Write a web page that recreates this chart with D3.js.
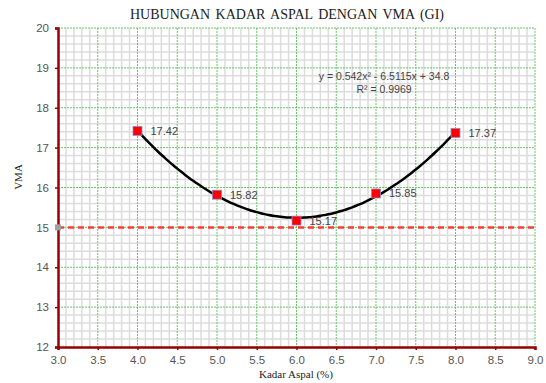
<!DOCTYPE html>
<html>
<head>
<meta charset="utf-8">
<script src="https://cdn.jsdelivr.net/npm/d3@7"></script>
<style>
  body { margin: 0; background: #fff; }
  svg { display: block; }
</style>
</head>
<body>
<div id="chart"></div>
<script>
// VMA vs kadar aspal, with 2nd order trendline
const kadarAspal = [4.0, 5.0, 6.0, 7.0, 8.0];
const vma = [17.42, 15.82, 15.17, 15.85, 17.37];
const pointLabels = ['17.42', '15.82', '15.17', '15.85', '17.37'];
const trendCoef = [0.542, -6.5115, 34.8]; // a, b, c
const batasX = [3.0, 9.0];
const batasY = [15, 15];
const xTicks = [3.0, 3.5, 4.0, 4.5, 5.0, 5.5, 6.0, 6.5, 7.0, 7.5, 8.0, 8.5, 9.0];
const yTicks = [12, 13, 14, 15, 16, 17, 18, 19, 20];

const W = 546, H = 383;
const margin = {top: 28, right: 11, bottom: 36, left: 58};
const width = W - margin.left - margin.right;
const height = H - margin.top - margin.bottom;

const root = d3.select('#chart').append('svg')
  .attr('width', W)
  .attr('height', H);

const svg = root.append('g')
  .attr('transform', `translate(${margin.left},${margin.top})`);

const x = d3.scaleLinear().domain([3, 9]).range([0, width]);
const y = d3.scaleLinear().domain([12, 20]).range([height, 0]);

// minor grid: every 0.1 in x, every 0.2 in y
const minorX = d3.range(1, 60).filter(i => i % 5 !== 0).map(i => 3 + i * 0.1);
const minorY = d3.range(1, 40).filter(i => i % 5 !== 0).map(i => 12 + i * 0.2);

svg.append('g')
  .selectAll('line')
  .data(minorX)
  .enter().append('line')
  .attr('x1', d => x(d)).attr('x2', d => x(d))
  .attr('y1', 0).attr('y2', height)
  .attr('stroke', '#dcdcdc').attr('stroke-width', 1.5);

svg.append('g')
  .selectAll('line')
  .data(minorY)
  .enter().append('line')
  .attr('x1', 0).attr('x2', width)
  .attr('y1', d => y(d)).attr('y2', d => y(d))
  .attr('stroke', '#dcdcdc').attr('stroke-width', 1.5);

// major grid (green dotted)
svg.append('g')
  .selectAll('line')
  .data(xTicks.slice(1))
  .enter().append('line')
  .attr('x1', d => x(d)).attr('x2', d => x(d))
  .attr('y1', 0).attr('y2', height)
  .attr('stroke', '#6cc46c').attr('stroke-width', 1)
  .attr('stroke-dasharray', '2,1');

svg.append('g')
  .selectAll('line')
  .data(yTicks.slice(1))
  .enter().append('line')
  .attr('x1', 0).attr('x2', width)
  .attr('y1', d => y(d)).attr('y2', d => y(d))
  .attr('stroke', '#6cc46c').attr('stroke-width', 1)
  .attr('stroke-dasharray', '2,1');

// axes
const xAxis = svg.append('g')
  .attr('transform', `translate(0,${height})`)
  .call(d3.axisBottom(x).tickValues(xTicks).tickFormat(d3.format('.1f')).tickSize(3).tickPadding(6));
const yAxis = svg.append('g')
  .call(d3.axisLeft(y).tickValues(yTicks).tickSize(3).tickPadding(6));

[xAxis, yAxis].forEach(ax => {
  ax.select('.domain').attr('stroke', '#990000').attr('stroke-width', 2.5);
  ax.selectAll('.tick line').attr('stroke', '#990000').attr('stroke-width', 1.5);
  ax.selectAll('text')
    .attr('fill', '#555')
    .style('font-family', 'Arial, "Liberation Sans", sans-serif')
    .style('font-size', '11.5px');
});

// batas 15 (red dashed)
const batas = batasX.map((d, i) => ({x: d, y: batasY[i]}));
svg.append('path')
  .datum(batas)
  .attr('fill', 'none')
  .attr('stroke', '#ff3b3b')
  .attr('stroke-width', 2.5)
  .attr('stroke-dasharray', '6,4')
  .attr('d', d3.line().x(d => x(d.x)).y(d => y(d.y)));

svg.append('rect')
  .attr('x', x(batasX[0]) - 3).attr('y', y(batasY[0]) - 3)
  .attr('width', 6).attr('height', 6)
  .attr('fill', '#a0a0a0');

// trendline
const poly = v => trendCoef[0] * v * v + trendCoef[1] * v + trendCoef[2];
const trendX = d3.range(0, 81).map(i => kadarAspal[0] + i * (kadarAspal[kadarAspal.length - 1] - kadarAspal[0]) / 80);
svg.append('path')
  .datum(trendX)
  .attr('fill', 'none')
  .attr('stroke', '#000')
  .attr('stroke-width', 2.5)
  .attr('d', d3.line().x(d => x(d)).y(d => y(poly(d))).curve(d3.curveMonotoneX));

// data points
const pts = kadarAspal.map((d, i) => ({x: d, y: vma[i], label: pointLabels[i]}));
svg.selectAll('.pt')
  .data(pts)
  .enter().append('rect')
  .attr('class', 'pt')
  .attr('x', d => x(d.x) - 4.5)
  .attr('y', d => y(d.y) - 4.5)
  .attr('width', 9).attr('height', 9)
  .attr('fill', '#ff0000')
  .attr('stroke', '#8c8cd0')
  .attr('stroke-width', 0.8);

svg.selectAll('.lbl')
  .data(pts)
  .enter().append('text')
  .attr('class', 'lbl')
  .attr('x', d => x(d.x) + 13)
  .attr('y', d => y(d.y) + 4)
  .attr('fill', '#444')
  .style('font-family', 'Arial, "Liberation Sans", sans-serif')
  .style('font-size', '11px')
  .text(d => d.label);

// equation
svg.append('text')
  .attr('x', x(7.0) + 8).attr('y', y(18.7))
  .attr('text-anchor', 'middle')
  .attr('fill', '#444')
  .style('font-family', 'Arial, "Liberation Sans", sans-serif')
  .style('font-size', '10.5px')
  .text('y = 0.542x² - 6.5115x + 34.8');
svg.append('text')
  .attr('x', x(7.0) + 8).attr('y', y(18.37))
  .attr('text-anchor', 'middle')
  .attr('fill', '#444')
  .style('font-family', 'Arial, "Liberation Sans", sans-serif')
  .style('font-size', '10.5px')
  .text('R² = 0.9969');

// titles
root.append('text')
  .attr('x', 287).attr('y', 19)
  .attr('text-anchor', 'middle')
  .attr('fill', '#222')
  .style('font-family', '"Liberation Serif", "Times New Roman", serif')
  .style('font-size', '14px')
  .style('word-spacing', '2px')
  .text('HUBUNGAN  KADAR  ASPAL DENGAN  VMA (GI)');

root.append('text')
  .attr('transform', `translate(22,${177}) rotate(-90)`)
  .attr('text-anchor', 'middle')
  .attr('fill', '#222')
  .style('font-family', '"Liberation Serif", "Times New Roman", serif')
  .style('font-size', '11px')
  .text('VMA');

root.append('text')
  .attr('x', 296).attr('y', 378)
  .attr('text-anchor', 'middle')
  .attr('fill', '#222')
  .style('font-family', '"Liberation Serif", "Times New Roman", serif')
  .style('font-size', '11px')
  .text('Kadar Aspal (%)');
</script>
</body>
</html>
